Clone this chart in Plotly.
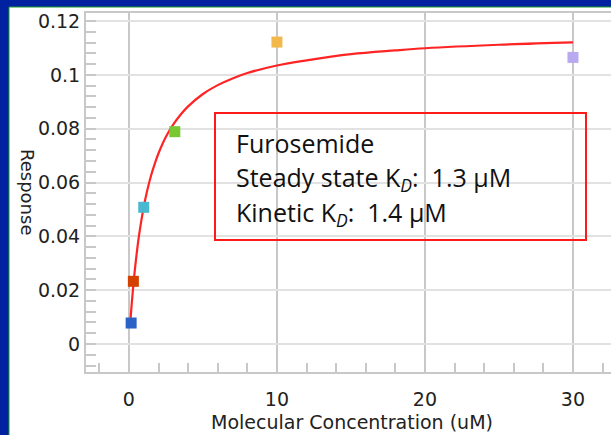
import plotly.graph_objects as go

# data points (concentration uM, response)
conc = [0.15, 0.3, 1.0, 3.1, 10.0, 30.0]
resp = [0.0078, 0.0233, 0.0508, 0.0789, 0.1122, 0.1065]
point_colors = ["#2a62c6", "#d44000", "#4ab8d0", "#78c832", "#f2b84b", "#b9a9f0"]

# fitted curve
fit_x = [0.11, 0.15, 0.2, 0.25, 0.33, 0.4, 0.5, 0.6, 0.7, 0.85, 1.0, 1.2, 1.5, 1.8, 2.0,
         2.5, 3.0, 3.5, 4.0, 5.0, 6.0, 7.0, 8.0, 10.0, 12.0, 15.0, 18.0, 20.0, 25.0, 30.0]
fit_y = [0.0091, 0.0122, 0.0156, 0.0188, 0.0237, 0.0275, 0.0325, 0.0370, 0.0410, 0.0462,
         0.0509, 0.0562, 0.0627, 0.0679, 0.0709, 0.0770, 0.0816, 0.0853, 0.0883, 0.0929,
         0.0962, 0.0987, 0.1007, 0.1035, 0.1054, 0.1077, 0.1091, 0.1099, 0.1112, 0.1121]

x_ticks = [0, 10, 20, 30]
y_ticks = [0, 0.02, 0.04, 0.06, 0.08, 0.1, 0.12]

box_lines = [
    "Furosemide",
    "Steady state K<sub><i>D</i></sub>:\u00a0\u00a01.3 \u00b5M",
    "Kinetic K<sub><i>D</i></sub>:\u00a0\u00a01.4 \u00b5M",
]

W, H = 611, 435
L, R, T, B = 86, 0, 13, 63
pw, ph = W - L - R, H - T - B

def px(xp):
    return (xp - L) / pw

def py(yp):
    return (H - B - yp) / ph

fig = go.Figure()
fig.add_trace(go.Scatter(x=fit_x, y=fit_y, mode="lines", line_shape="spline",
                         line=dict(color="#ff2424", width=2.2), hoverinfo="skip"))
fig.add_trace(go.Scatter(x=conc, y=resp, mode="markers", hoverinfo="skip",
                         marker=dict(symbol="square", size=11, color=point_colors,
                                     line=dict(width=0))))

axis_font = dict(family="DejaVu Sans", size=19, color="#222222")

fig.update_xaxes(range=[-2.9, 32.57], tickvals=x_ticks, ticks="", showgrid=True,
                 gridcolor="#c8c8c8", gridwidth=2, zeroline=False,
                 showline=True, linecolor="#c8c8c8", linewidth=2, mirror=True,
                 tickfont=axis_font, ticklabelstandoff=9,
                 minor=dict(dtick=2, ticks="inside", ticklen=9, tickcolor="#c8c8c8",
                            tickwidth=2, showgrid=False))
fig.update_yaxes(range=[-0.0104, 0.123], tickvals=y_ticks, ticks="", showgrid=True,
                 gridcolor="#e2e2e2", gridwidth=2, zeroline=False,
                 showline=True, linecolor="#c8c8c8", linewidth=2,
                 tickfont=axis_font,
                 minor=dict(dtick=0.004, tick0=0, ticks="inside", ticklen=10,
                            tickcolor="#c8c8c8", tickwidth=2, showgrid=False))

shapes = [
    dict(type="rect", xref="paper", yref="paper", x0=px(9), x1=px(640), y0=py(470), y1=py(7),
         fillcolor="white", line=dict(color="#1c9a2a", width=1), layer="below"),
    dict(type="rect", xref="paper", yref="paper", x0=px(215), x1=px(586), y0=py(240), y1=py(113),
         line=dict(color="#ff1a1a", width=2), fillcolor="rgba(0,0,0,0)", layer="above"),
]

annotations = [
    dict(text="Molecular Concentration (uM)", xref="paper", yref="paper",
         x=px(352), y=py(422), xanchor="center", yanchor="middle", showarrow=False,
         font=dict(family="DejaVu Sans", size=19, color="#222222")),
    dict(text="Response", xref="paper", yref="paper", x=px(28), y=py(192),
         xanchor="center", yanchor="middle", showarrow=False, textangle=90,
         font=dict(family="DejaVu Sans", size=18, color="#222222")),
]
for line, yc in zip(box_lines, [143, 178, 213]):
    annotations.append(dict(text=line, xref="paper", yref="paper", x=px(234), y=py(yc),
                            xanchor="left", yanchor="middle", showarrow=False, align="left",
                            font=dict(family="Open Sans", size=25, color="#111111")))

fig.update_layout(width=W, height=H, margin=dict(l=L, r=R, t=T, b=B, pad=0),
                  paper_bgcolor="#0021a0", plot_bgcolor="rgba(0,0,0,0)",
                  showlegend=False, shapes=shapes, annotations=annotations)

fig.write_html("out.html")
